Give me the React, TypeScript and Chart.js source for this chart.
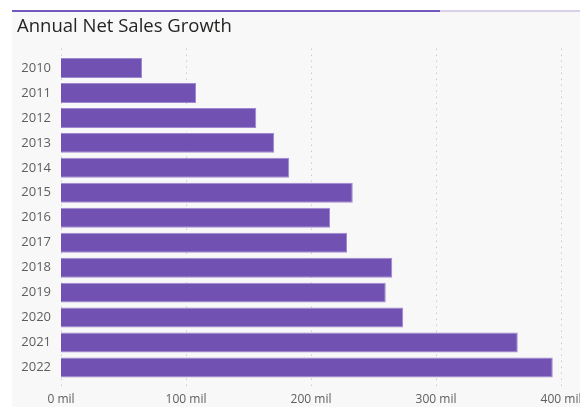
import React, { useEffect, useRef } from "react";
import { Chart, registerables } from "chart.js";

Chart.register(...registerables);

const years = ["2010", "2011", "2012", "2013", "2014", "2015", "2016", "2017", "2018", "2019", "2020", "2021", "2022"];
const netSales = [64.8, 108, 156.2, 170.6, 182.6, 233.4, 215.2, 228.8, 265, 259.8, 273.8, 365.4, 393.4];
const xTicks = [0, 100, 200, 300, 400];
const title = "Annual Net Sales Growth";

const bgPlugin = {
  id: "bgPlugin",
  beforeDraw(chart: any) {
    const ctx = chart.ctx;
    ctx.save();
    ctx.fillStyle = "#ffffff";
    ctx.fillRect(0, 0, chart.width, chart.height);
    ctx.fillStyle = "#f8f8f8";
    ctx.fillRect(12, 11, chart.width - 12, chart.height - 11);
    ctx.fillStyle = "#7359bd";
    ctx.fillRect(12, 10, 428, 2);
    ctx.fillStyle = "#d9d0ec";
    ctx.fillRect(440, 10, chart.width - 440, 2);
    ctx.restore();
  },
  beforeDatasetsDraw(chart: any) {
    const ctx = chart.ctx;
    const xs = chart.scales.x;
    const area = chart.chartArea;
    ctx.save();
    ctx.strokeStyle = "#cccccc";
    ctx.lineWidth = 1;
    ctx.setLineDash([1.5, 4.5]);
    xs.ticks.forEach((t: any) => {
      const px = Math.round(xs.getPixelForValue(t.value)) + 0.5;
      ctx.beginPath();
      ctx.moveTo(px, area.top - 7);
      ctx.lineTo(px, area.bottom + 10);
      ctx.stroke();
    });
    ctx.restore();
  },
};

export default function App() {
  const ref = useRef<HTMLCanvasElement>(null);
  useEffect(() => {
    if (!ref.current) return;
    const chart = new Chart(ref.current, {
      type: "bar",
      data: {
        labels: years,
        datasets: [
          {
            data: netSales,
            backgroundColor: "#7151b1",
            borderColor: "#9f88d2",
            borderWidth: 1,
            barPercentage: 0.8,
            categoryPercentage: 1,
          },
        ],
      },
      options: {
        indexAxis: "y",
        animation: false,
        responsive: false,
        maintainAspectRatio: false,
        layout: { padding: { top: 55.5, right: 19, left: 0, bottom: 0 } },
        plugins: { legend: { display: false }, tooltip: { enabled: false }, title: { display: false } },
        scales: {
          x: {
            min: 0,
            max: 400,
            afterBuildTicks(scale: any) {
              scale.ticks = xTicks.map((v) => ({ value: v }));
            },
            afterFit(scale: any) {
              scale.height = 27;
              scale.paddingLeft = 0;
              scale.paddingRight = 0;
            },
            grid: { display: false, drawTicks: false },
            border: { display: false },
            ticks: {
              padding: 12,
              color: "#605e5c",
              font: { family: "'Open Sans'", size: 12 },
              callback: (v: any) => `${v} mil`,
            },
          },
          y: {
            afterFit(scale: any) {
              scale.width = 61;
              scale.paddingTop = 0;
              scale.paddingBottom = 0;
            },
            grid: { display: false, drawTicks: false },
            border: { display: false },
            ticks: {
              padding: 10,
              color: "#605e5c",
              font: { family: "'Open Sans'", size: 13 },
            },
          },
        },
      },
      plugins: [bgPlugin],
    });
    return () => chart.destroy();
  }, []);
  return (
    <div style={{ position: "absolute", left: 0, top: 0, width: 580, height: 407 }}>
      <canvas ref={ref} width={580} height={407} style={{ display: "block" }} />
      <div
        style={{
          position: "absolute",
          left: 17,
          top: 14,
          fontFamily: "'Open Sans'",
          fontSize: 18.5,
          lineHeight: "22px",
          color: "#252423",
        }}
      >
        {title}
      </div>
    </div>
  );
}
